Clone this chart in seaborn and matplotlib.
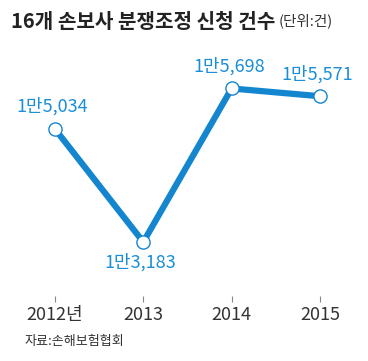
import matplotlib
matplotlib.use("Agg")
import matplotlib.pyplot as plt
import seaborn as sns
import pandas as pd

years = [0, 1, 2, 3]
year_labels = ["2012년", "2013", "2014", "2015"]
values = [15034, 13183, 15698, 15571]
value_labels = ["1만5,034", "1만3,183", "1만5,698", "1만5,571"]
label_pos = ["above", "below", "above", "above"]

sns.set_style("white")
plt.rcParams['font.family'] = ['Noto Sans CJK KR', 'DejaVu Sans']

BLUE = "#1486d0"
LBLUE = "#1a8fd8"

fig = plt.figure(figsize=(3.68, 3.61), dpi=100)
ax = fig.add_axes([0, (361 - 296) / 361, 1, 296 / 361])

df = pd.DataFrame({"x": years, "y": values})
sns.lineplot(data=df, x="x", y="y", ax=ax, color=BLUE, linewidth=4.5,
             marker="o", markersize=9.5, markerfacecolor="white",
             markeredgecolor=BLUE, markeredgewidth=1.0)

ax.set_xlim(-0.6227, 3.544)
ax.set_ylim(12299, 17147)

for x, v, lab, pos in zip(years, values, value_labels, label_pos):
    dy = 16 if pos == "above" else -15
    ax.annotate(lab, (x, v), xytext=(-2, dy), textcoords="offset points",
                ha="center", va="center", fontsize=13, color=LBLUE)

for s in ax.spines.values():
    s.set_visible(False)
ax.set_yticks([])
ax.set_xticks(years)
ax.set_xticklabels(year_labels, fontsize=13, color="#333333")
ax.tick_params(axis="x", bottom=True, length=4, width=0.8, color="#888888", pad=3)
ax.set_xlabel("")
ax.set_ylabel("")

fig.text(11 / 368, 1 - 21 / 361, "16개 손보사 분쟁조정 신청 건수", fontsize=14.5,
         fontweight="bold", color="#222222", va="center", ha="left")
fig.text(279 / 368, 1 - 21 / 361, "(단위:건)", fontsize=10.5, color="#333333",
         va="center", ha="left")
fig.text(25 / 368, 1 - 342 / 361, "자료:손해보험협회", fontsize=9.4, color="#333333",
         va="center", ha="left")

fig.savefig("out.png", dpi=100)
